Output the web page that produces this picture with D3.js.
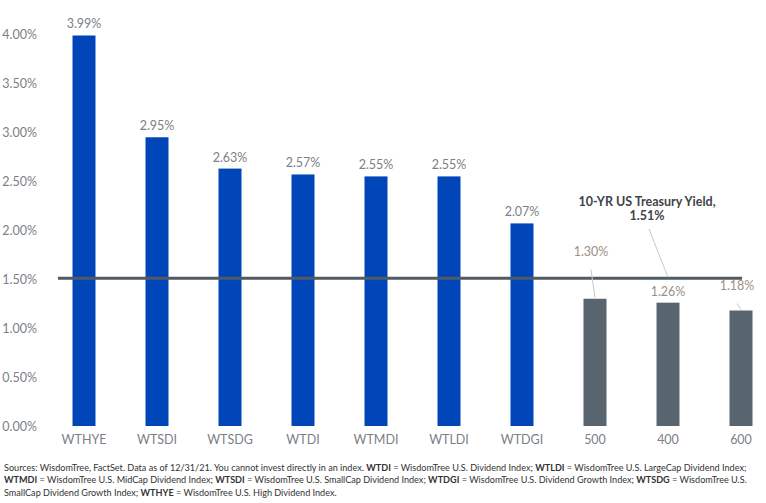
<!DOCTYPE html>
<html>
<head>
<meta charset="utf-8">
<script src="https://cdn.jsdelivr.net/npm/d3@7"></script>
<style>
  body { margin: 0; background: #fff; }
  text { font-family: Lato, "Open Sans", sans-serif; }
</style>
</head>
<body>
<div id="chart"></div>
<script>
/***** Data *****/
var categories = ["WTHYE", "WTSDI", "WTSDG", "WTDI", "WTMDI", "WTLDI", "WTDGI", "500", "400", "600"];
var yields = [3.99, 2.95, 2.63, 2.57, 2.55, 2.55, 2.07, 1.30, 1.26, 1.18];
var isIndex = [true, true, true, true, true, true, true, false, false, false];
var treasuryYield = 1.51;
var treasuryLabel = ["10-YR US Treasury Yield,", "1.51%"];
var yTicks = [0, 0.5, 1, 1.5, 2, 2.5, 3, 3.5, 4];

var footLines = [
  [["Sources: WisdomTree, FactSet. Data as of 12/31/21. You cannot invest directly in an index. ", false], ["WTDI", true], [" = WisdomTree U.S. Dividend Index; ", false], ["WTLDI", true], [" = WisdomTree U.S. LargeCap Dividend Index;", false]],
  [["WTMDI", true], [" = WisdomTree U.S. MidCap Dividend Index; ", false], ["WTSDI", true], [" = WisdomTree U.S. SmallCap Dividend Index; ", false], ["WTDGI", true], [" = WisdomTree U.S. Dividend Growth Index; ", false], ["WTSDG", true], [" = WisdomTree U.S.", false]],
  [["SmallCap Dividend Growth Index; ", false], ["WTHYE", true], [" = WisdomTree U.S. High Dividend Index.", false]]
];

/***** Layout *****/
var width = 766, height = 503;
var blue = "#0046b8", gray = "#59656e", labelColor = "#7b7f86";

var svg = d3.select("#chart").append("svg")
  .attr("width", width)
  .attr("height", height);

var x = d3.scaleBand()
  .domain(categories)
  .range([47.5, 777.5])
  .paddingInner(0.685)
  .paddingOuter(0.3425);

var y = d3.scaleLinear()
  .domain([0, 4])
  .range([426, 34.5]);

// y axis labels
var yAxis = d3.axisLeft(y)
  .tickValues(yTicks)
  .tickFormat(function(d) { return d3.format(".2f")(d) + "%"; })
  .tickSize(0)
  .tickPadding(0);

svg.append("g")
  .attr("transform", "translate(37,0)")
  .call(yAxis)
  .call(function(g) { g.select(".domain").remove(); })
  .selectAll("text")
  .attr("fill", labelColor)
  .style("font-size", "12.5px")
  .style("font-family", "Lato, sans-serif");

// x axis labels
var xAxis = d3.axisBottom(x).tickSize(0).tickPadding(9);
svg.append("g")
  .attr("transform", "translate(0,426)")
  .call(xAxis)
  .call(function(g) { g.select(".domain").remove(); })
  .selectAll("text")
  .attr("fill", labelColor)
  .style("font-size", "12.5px")
  .style("font-family", "Lato, sans-serif");

var data = categories.map(function(c, i) {
  return {name: c, value: yields[i], index: isIndex[i]};
});

// bars
svg.append("g").selectAll("rect")
  .data(data)
  .enter().append("rect")
  .attr("x", function(d) { return x(d.name); })
  .attr("width", x.bandwidth())
  .attr("y", function(d) { return y(d.value); })
  .attr("height", function(d) { return y(0) - y(d.value); })
  .attr("fill", function(d) { return d.index ? blue : gray; });

// treasury line
svg.append("line")
  .attr("x1", 58)
  .attr("x2", 742)
  .attr("y1", y(treasuryYield))
  .attr("y2", y(treasuryYield))
  .attr("stroke", "#4f5a62")
  .attr("stroke-width", 3);

// value labels (some raised with leader lines)
var raise = {"500": 36, "600": 14};
var labels = svg.append("g");
data.forEach(function(d) {
  var cx = x(d.name) + x.bandwidth() / 2;
  var top = y(d.value);
  var lift = raise[d.name] || 0;
  if (lift) {
    labels.append("line")
      .attr("x1", cx - 4)
      .attr("y1", top - lift + 7)
      .attr("x2", cx)
      .attr("y2", top - 1)
      .attr("stroke", "#c8c8c8")
      .attr("stroke-width", 1);
  }
  labels.append("text")
    .attr("x", cx - (lift ? 4 : 0))
    .attr("y", top - 7 - lift)
    .attr("text-anchor", "middle")
    .attr("fill", d.index ? labelColor : "#9a8f86")
    .style("font-size", "12.5px")
    .text(d3.format(".2f")(d.value) + "%");
});

// treasury annotation
var tx = 647;
svg.append("line")
  .attr("x1", 649).attr("y1", 229)
  .attr("x2", 668).attr("y2", y(treasuryYield) - 1)
  .attr("stroke", "#c8c8c8")
  .attr("stroke-width", 1);

svg.append("g").selectAll("text")
  .data(treasuryLabel)
  .enter().append("text")
  .attr("x", tx)
  .attr("y", function(d, i) { return 206 + i * 14; })
  .attr("text-anchor", "middle")
  .attr("fill", "#404448")
  .style("font-size", "12.5px")
  .style("font-weight", "bold")
  .text(function(d) { return d; });

// footnote
var foot = svg.append("g");
footLines.forEach(function(line, i) {
  var t = foot.append("text")
    .attr("x", 4)
    .attr("y", 471 + i * 12.3)
    .attr("fill", "#333")
    .style("font-size", "9.1px");
  line.forEach(function(part) {
    t.append("tspan")
      .style("font-weight", part[1] ? "bold" : "normal")
      .text(part[0]);
  });
});
</script>
</body>
</html>
